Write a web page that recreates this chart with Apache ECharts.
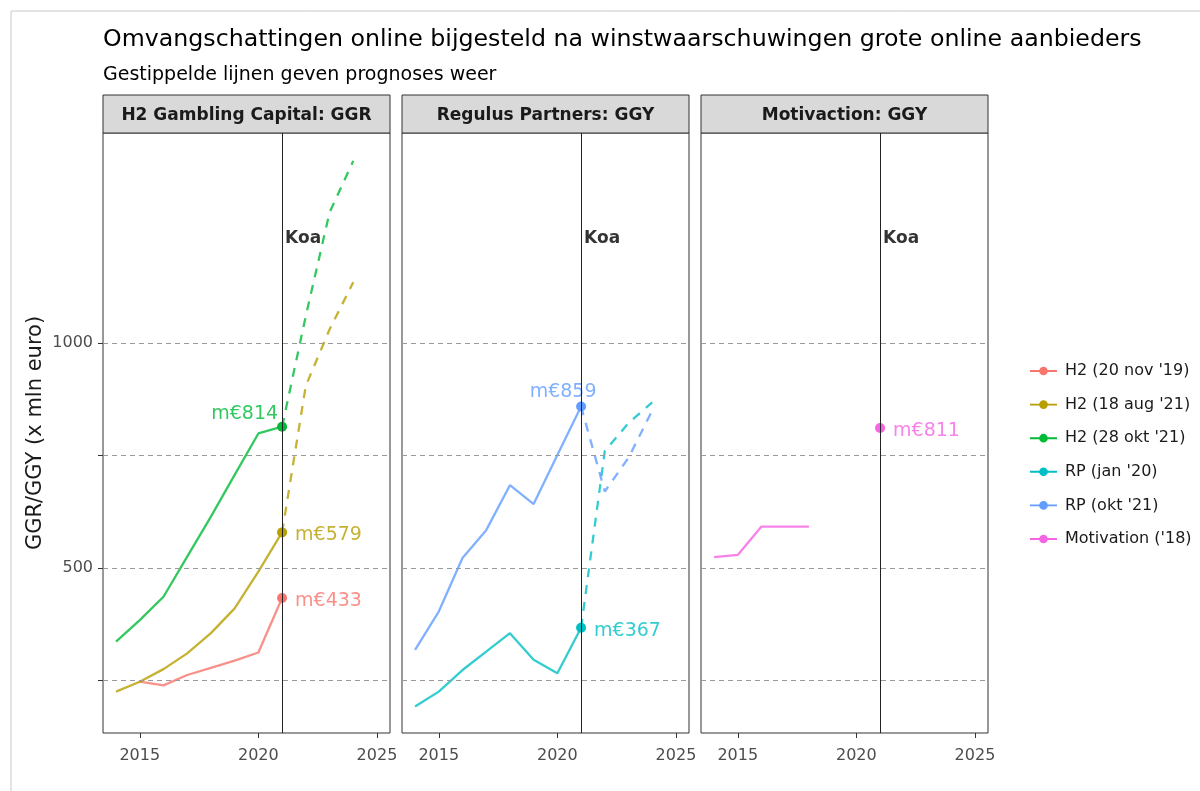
<!DOCTYPE html>
<html lang="nl">
<head>
<meta charset="UTF-8">
<title>Omvangschattingen online</title>
<script src="https://cdn.jsdelivr.net/npm/echarts@6/dist/echarts.min.js"></script>
<style>
html,body{margin:0;padding:0;background:#fff}
#chart{width:1200px;height:791px}
</style>
</head>
<body>
<div id="chart"></div>
<script>
// data (x mln euro)
var histYears = [2014, 2015, 2016, 2017, 2018, 2019, 2020, 2021];
var progYears = [2021, 2022, 2023, 2024];
var motYears = [2014, 2015, 2016, 2017, 2018];

var h2Nov19 = [null, 247, 239, 262, 278, 294, 312, 433];
var h2Aug21 = [225, 247, 275, 310, 355, 410, 492, 579];
var h2Aug21Prog = [579, 905, 1030, 1135];
var h2Okt21 = [336, 384, 436, 525, 614, 707, 799, 814];
var h2Okt21Prog = [814, 1060, 1290, 1405];
var rpJan20 = [192, 225, 273, 314, 355, 296, 266, 367];
var rpJan20Prog = [367, 760, 822, 868];
var rpOkt21 = [318, 403, 522, 584, 684, 642, 751, 859];
var rpOkt21Prog = [859, 670, 745, 850];
var motivation18 = [524, 529, 592, 592, 592];

var pointYear = 2021;
var pointValues = [433, 579, 814, 367, 859, 811];
var pointLabels = ['m€433', 'm€579', 'm€814', 'm€367', 'm€859', 'm€811'];

var names = ["H2 (20 nov '19)", "H2 (18 aug '21)", "H2 (28 okt '21)", "RP (jan '20)", "RP (okt '21)", "Motivation ('18)"];
var panels = ['H2 Gambling Capital: GGR', 'Regulus Partners: GGY', 'Motivaction: GGY'];
var xTicks = [2015, 2020, 2025];
var yTicks = [250, 500, 750, 1000];
var yLabels = [500, 1000];
var koaYear = 2021, koaLevel = 1233;

// layout / styling
var colors = ['#F8766D', '#B79F00', '#00BA38', '#00BFC4', '#619CFF', '#F564E3'];
var fade = ['rgba(248,118,109,0.8)', 'rgba(183,159,0,0.8)', 'rgba(0,186,56,0.8)', 'rgba(0,191,196,0.8)', 'rgba(97,156,255,0.8)', 'rgba(245,100,227,0.8)'];
var panelOf = [0, 0, 0, 1, 1, 2];
var histX = [histYears, histYears, histYears, histYears, histYears, motYears];
var hist = [h2Nov19, h2Aug21, h2Okt21, rpJan20, rpOkt21, motivation18];
var prog = [null, h2Aug21Prog, h2Okt21Prog, rpJan20Prog, rpOkt21Prog, null];
var labelPos = [
  {position: 'right', distance: 8, offset: [0, 3]},
  {position: 'right', distance: 8, offset: [0, 3]},
  {position: 'left', distance: -1, offset: [0, -13]},
  {position: 'right', distance: 8, offset: [0, 3]},
  {position: 'top', distance: 0, offset: [-18, 0]},
  {position: 'right', distance: 8, offset: [0, 3]}
];
var gridLeft = [103, 402, 701], gridW = 287, gridTop = 133, gridH = 600;
var font = '"DejaVu Sans", Verdana, sans-serif';

function pairs(xs, ys) {
  var out = [];
  for (var i = 0; i < xs.length; i++) {
    if (ys[i] != null) out.push([xs[i], ys[i]]);
  }
  return out;
}

var grids = [], xAxes = [], yAxes = [], series = [], graphics = [];

panels.forEach(function (p, i) {
  grids.push({left: gridLeft[i], top: gridTop, width: gridW, height: gridH,
    show: true, borderColor: '#333', borderWidth: 1, backgroundColor: '#fff'});
  xAxes.push({type: 'value', gridIndex: i, min: 2013.45, max: 2025.55,
    axisLine: {show: false}, splitLine: {show: false},
    axisTick: {show: true, length: 5, lineStyle: {color: '#333'}, customValues: xTicks},
    axisLabel: {color: '#4D4D4D', fontSize: 16, fontFamily: font, margin: 15,
      customValues: xTicks, formatter: function (v) { return String(v); }}});
  yAxes.push({type: 'value', gridIndex: i, min: 133, max: 1467,
    axisLine: {show: false}, splitLine: {show: false},
    axisTick: {show: i === 0, length: 5, lineStyle: {color: '#333'}, customValues: yTicks},
    axisLabel: {show: i === 0, color: '#4D4D4D', fontSize: 16, fontFamily: font, margin: 10,
      customValues: yLabels, formatter: function (v) { return String(v); }},
    name: i === 0 ? 'GGR/GGY (x mln euro)' : '', nameLocation: 'middle', nameGap: 57,
    nameTextStyle: {fontSize: 21, color: '#1a1a1a', fontFamily: font}});

  // gridlines, koa line and label
  series.push({type: 'line', xAxisIndex: i, yAxisIndex: i, data: [], silent: true, z: 1,
    markLine: {symbol: 'none', silent: true, label: {show: false}, animation: false,
      data: yTicks.map(function (v) {
        return {yAxis: v, lineStyle: {color: '#9a9a9a', type: [5, 4], width: 1}};
      }).concat([{xAxis: koaYear, lineStyle: {color: '#222', type: 'solid', width: 1}}])}});
  series.push({type: 'scatter', xAxisIndex: i, yAxisIndex: i, symbolSize: 0, silent: true, z: 5,
    data: [[koaYear, koaLevel]],
    label: {show: true, formatter: 'Koa', position: 'right', distance: 3,
      color: '#000', fontWeight: 'bold', fontSize: 17, fontFamily: font}});

  graphics.push({type: 'rect', shape: {x: gridLeft[i], y: 95, width: gridW, height: 38},
    style: {fill: '#D9D9D9', stroke: '#333', lineWidth: 1}});
  graphics.push({type: 'text', x: gridLeft[i] + gridW / 2, y: 116,
    style: {text: p, fill: '#1a1a1a', font: 'bold 17px ' + font, align: 'center', verticalAlign: 'middle'}});
});

names.forEach(function (n, k) {
  var g = panelOf[k];
  series.push({name: n, type: 'line', xAxisIndex: g, yAxisIndex: g,
    data: pairs(histX[k], hist[k]), showSymbol: false, z: 3,
    itemStyle: {color: colors[k]}, lineStyle: {color: fade[k], width: 2.3}});
  if (prog[k]) {
    series.push({name: n, type: 'line', xAxisIndex: g, yAxisIndex: g,
      data: pairs(progYears, prog[k]), showSymbol: false, z: 3,
      itemStyle: {color: colors[k]}, lineStyle: {color: fade[k], width: 2.3, type: [9, 8]}});
  }
  var lab = Object.assign({show: true, formatter: pointLabels[k], color: fade[k],
    fontSize: 19, fontFamily: font}, labelPos[k]);
  series.push({name: n, type: 'scatter', xAxisIndex: g, yAxisIndex: g, z: 4,
    data: [[pointYear, pointValues[k]]], symbolSize: 10,
    itemStyle: {color: colors[k], opacity: 1}, label: lab});
});

graphics.push({type: 'line', shape: {x1: 11, y1: 11, x2: 1200, y2: 11}, style: {stroke: '#c8c8c8', lineWidth: 1}});
graphics.push({type: 'line', shape: {x1: 11, y1: 11, x2: 11, y2: 791}, style: {stroke: '#c8c8c8', lineWidth: 1}});

var keyIcon = 'path://M0,6H28V8H0Z M14,2.5A4.5,4.5 0 1 1 13.99,2.5Z';

var option = {
  animation: false,
  backgroundColor: '#fff',
  title: [
    {text: 'Omvangschattingen online bijgesteld na winstwaarschuwingen grote online aanbieders',
     left: 103, top: 28, padding: 0, textStyle: {fontSize: 23.7, fontWeight: 'normal', color: '#000', fontFamily: font}},
    {text: 'Gestippelde lijnen geven prognoses weer',
     left: 103, top: 66, padding: 0, textStyle: {fontSize: 19, fontWeight: 'normal', color: '#000', fontFamily: font}}
  ],
  legend: {
    orient: 'vertical', left: 1025, top: 358, itemWidth: 27, itemHeight: 14, itemGap: 17.6,
    textStyle: {fontSize: 16, color: '#1a1a1a', fontFamily: font, padding: [0, 0, 0, 3]},
    data: names.map(function (n, k) {
      return {name: n, icon: keyIcon, itemStyle: {color: colors[k]}};
    })
  },
  grid: grids,
  xAxis: xAxes,
  yAxis: yAxes,
  series: series,
  graphic: graphics
};

var ec = echarts.init(document.getElementById('chart'));
ec.setOption(option);
</script>
</body>
</html>
